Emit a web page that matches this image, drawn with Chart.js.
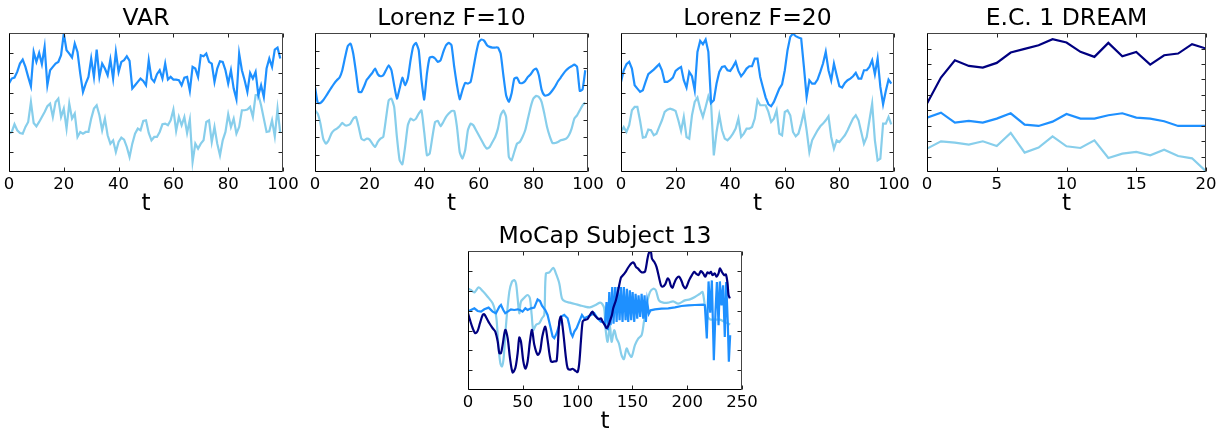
<!DOCTYPE html>
<html><head><meta charset="utf-8">
<script src="https://cdn.jsdelivr.net/npm/chart.js@4.4.0/dist/chart.umd.min.js"></script>
<style>
html,body{margin:0;padding:0;background:#fff;width:1220px;height:430px;overflow:hidden;position:relative}
canvas{position:absolute}
</style></head><body>
<canvas id="c1" width="324" height="220" style="left:-16px;top:0px;width:324px;height:220px"></canvas>
<canvas id="c2" width="323" height="220" style="left:290px;top:0px;width:323px;height:220px"></canvas>
<canvas id="c3" width="323" height="220" style="left:596px;top:0px;width:323px;height:220px"></canvas>
<canvas id="c4" width="329" height="220" style="left:902px;top:0px;width:329px;height:220px"></canvas>
<canvas id="c5" width="324" height="220" style="left:443px;top:218px;width:324px;height:220px"></canvas>
<script>
const FONT = "'DejaVu Sans', sans-serif";
const TITLES = ['VAR', 'Lorenz F=10', 'Lorenz F=20', 'E.C. 1 DREAM', 'MoCap Subject 13'];
const X_LABEL = 't';

// VAR (t = 0..99)
const varDodger = [265,280,283,300,325,337,315,285,257,360, 330,357,323,375,260,305,315,325,330,350, 415,365,355,343,385,360,295,240,265,285, 340,285,367,285,325,310,290,337,280,360, 300,330,335,347,333,250,260,270,280,273, 260,335,280,270,293,305,280,325,277,285, 277,277,275,260,283,285,243,315,310,285, 350,347,355,330,325,270,310,332,330,305, 265,305,250,218,355,305,275,240,297,280, 300,230,260,225,310,340,315,367,373,340];
const varSky = [115,120,143,125,117,115,135,150,210,147, 137,150,165,180,197,205,165,210,220,165, 190,130,205,160,175,105,120,115,120,120, 160,190,200,170,125,160,110,85,95,60, 90,103,97,75,45,85,115,130,125,153, 155,117,95,105,105,120,143,145,140,155, 187,123,165,140,165,117,157,30,85,70, 85,95,150,155,90,135,85,50,95,120, 173,135,160,115,135,185,185,187,195,165, 230,232,200,160,120,122,155,107,190,117];

// Lorenz F=10 (t = 0..99)
const l10Dodger = [255,207,207,215,227,240,253,265,275,283, 305,343,377,385,355,300,240,240,257,277, 287,297,310,293,287,290,305,320,305,260, 220,250,283,260,280,335,377,387,365,275, 217,295,343,345,340,330,335,360,380,387, 380,315,260,218,245,267,265,270,310,355, 390,397,393,380,375,373,373,373,355,290, 230,210,235,280,283,267,267,273,285,293, 305,310,290,247,230,230,235,245,257,272, 283,295,305,312,317,322,315,243,247,305];
const l10Sky = [185,175,145,100,85,95,115,125,130,137, 147,140,140,145,160,165,135,100,95,100, 97,85,75,90,100,105,160,215,220,195, 105,35,23,75,140,160,155,160,175,185, 120,50,55,105,150,153,137,150,165,175, 183,183,135,60,40,65,125,145,140,125, 110,95,80,70,75,90,105,130,170,185, 165,45,35,60,85,90,105,125,160,195, 220,228,225,210,175,135,107,87,87,90, 95,97,100,110,130,160,170,185,200,208];

// Lorenz F=20 (t = 0..99)
const l20Dodger = [270,305,323,330,310,260,250,240,245,270, 293,300,307,315,323,305,270,270,275,283, 303,310,315,275,253,300,287,245,360,393, 383,397,360,207,215,265,300,315,317,305, 303,315,330,303,287,297,310,317,317,340, 340,285,253,223,203,197,210,230,250,263, 305,365,405,415,407,403,400,315,225,275, 265,265,277,300,325,360,305,275,325,290, 257,253,267,275,280,287,297,280,280,305, 305,315,335,293,340,255,203,243,277,265];
const l20Sky = [120,135,120,140,185,195,195,153,103,105, 127,125,110,115,135,155,180,187,190,187, 183,155,123,165,105,100,170,210,223,190, 165,195,227,205,50,120,170,125,100,95, 103,115,130,160,105,115,130,130,135,160, 215,200,200,200,180,150,160,185,115,110, 180,185,170,120,107,115,145,180,125,60, 95,110,125,137,145,155,167,105,70,95, 90,100,110,125,143,160,170,155,120,85, 105,155,205,95,35,40,145,145,165,143];

// E.C. 1 DREAM (t = 0..20)
const dreamNavy = [205,283,335,318,313,327,358,369,380,398,388,360,345,387,347,360,322,350,355,383,370];
const dreamDodger = [163,178,148,153,148,160,176,142,138,151,174,160,160,170,176,163,160,152,138,138,138];
const dreamSky = [70,92,88,82,92,78,117,58,73,107,77,72,95,42,55,60,50,67,48,41,2];

// MoCap Subject 13
const mocapNavyT = [0,1.8,4.3,6.7,8.8,10.9,13.4,14.9,17.0,19.5, 22.5,24.9,27.1,28.6,30.1,31.6,34.0,36.2,38.3,40.7, 43.2,45.3,46.8,48.3,50.5,52.3,54.4,56.5,58.4,60.5, 63.5,65.7,67.8,70.5,72.6,75.7,78.7,80.9,83.3,84.8, 86.3,87.8,89.4,90.9,93.0,95.4,97.9,100.0,101.5,103.0, 104.6,106.1,109.1,112.2,113.7,115.2,118.2,119.8,121.3,122.8, 125.2,126.4,128.3,129.5,131.3,132.5,135.0,137.4,139.5,141.0, 143.5,145.6,147.7,150.2,151.7,153.2,155.6,157.8,159.9,161.7, 163.8,165.3,166.9,167.8,169.9,172.0,174.5,176.0,177.5,179.9, 182.1,183.6,185.1,186.6,188.1,190.3,192.7,195.1,196.4,198.2, 199.4,201.8,204.3,206.4,207.9,210.3,212.5,214.6,216.4,218.5, 220.1,221.6,223.1,225.2,226.7,228.6,229.8,231.6,233.7,235.3, 236.8,237.7,238.9];
const mocapNavy = [231,211,186,171,178,201,226,228,216,201, 186,176,146,111,111,136,181,156,96,53, 66,111,158,146,86,64,86,146,181,136, 106,116,161,191,151,86,86,88,206,221, 191,146,96,66,61,64,58,54,81,146, 206,211,214,231,236,226,216,214,216,206, 194,186,196,208,226,246,271,306,338,344, 354,366,376,384,381,371,364,356,354,358, 396,415,416,396,386,371,336,316,311,318, 336,331,314,308,321,336,341,326,314,306, 311,331,346,356,351,346,358,351,341,354, 351,356,346,351,341,351,366,356,346,348, 321,286,276];
const mocapDodgerT = [0,2.7,5.8,8.8,11.9,14.9,18.8,22.5,25.5,28.6, 30.1,32.2,34.0,36.2,39.2,42.2,45.3,47.4,49.8,52.3, 54.4,57.4,60.5,63.5,65.7,67.5,70.5,72.6,74.8,77.2, 78.7,80.9,83.3,84.8,87.8,90.9,92.4,93.9,95.4,97.0, 99.1,101.5,104.0,106.1,109.1,112.2,115.2,118.2,121.3,123.4, 124.9,126.4,127.7,128.9,130.1,131.6,132.8,134.3,135.6,136.8, 138.3,139.5,141.0,142.2,143.8,145.0,146.2,147.7,148.9,150.2, 151.7,152.9,154.4,155.6,157.1,158.4,159.9,161.1,162.3,163.5, 165.0,166.6,170.5,176.6,182.7,188.8,194.8,200.9,207.0,214.6, 216.1,217.9,219.5,221.0,222.5,224.3,225.8,227.1,228.6,229.8, 231.3,232.8,234.3,235.6,237.1,238.0,239.2];
const mocapDodger = [236,241,246,238,236,243,248,236,231,251, 256,241,231,236,243,241,243,241,236,246, 241,246,248,273,268,254,241,226,196,161, 156,171,196,221,226,216,196,171,161,176, 186,206,226,216,221,226,231,216,206,205, 195,265,180,295,195,310,200,310,205,310, 210,310,205,310,210,305,205,300,210,295, 205,290,215,285,220,290,215,285,205,265, 230,240,243,245,246,249,253,255,256,257, 255,155,327,233,330,90,235,325,195,327, 255,315,160,325,195,85,165];
const mocapSkyT = [0,2.7,5.8,9.7,13.4,17.9,22.5,24.9,26.1,27.7, 29.5,31.0,32.5,34.7,37.7,40.1,42.2,43.8,45.3,46.8, 48.3,51.4,54.4,56.5,58.1,59.6,62.0,65.0,67.5,69.6, 71.1,74.2,77.8,80.2,83.3,85.7,88.4,93.0,97.6,102.1, 106.7,111.2,115.8,120.4,122.5,124.3,125.5,127.4,129.5,131.0, 133.4,135.6,137.7,140.1,142.2,144.7,146.8,149.2,152.3,155.3, 158.4,160.5,162.9,166.0,169.0,171.4,174.2,178.1,182.7,187.2, 191.8,197.9,202.4,207.0,211.6,214.0,216.1,218.2,220.7,225.2, 229.8,234.3,239.2];
const mocapSky = [306,301,294,309,298,281,261,236,211,136, 81,71,96,196,296,326,331,321,276,231, 266,278,286,276,226,181,196,201,216,226, 351,354,368,351,321,276,267,263,259,255, 251,249,255,263,259,245,185,145,195,145, 180,155,140,105,93,125,110,100,135,155, 165,205,255,295,305,300,270,263,263,267, 260,270,273,280,290,295,255,225,213,212, 212,205,197];

// axis settings per panel
const X_MAX = [100, 100, 100, 20, 250];
const X_STEP = [20, 20, 20, 5, 50];
const Y_MAX = [416, 416, 416, 416, 418];
const Y_INTERVALS = [7, 8, 7, 9, 7];

const NAVY = '#000080', DODGER = '#1E90FF', SKY = '#87CEEB';

function pts(vals, ts) { return vals.map((v, i) => ({x: ts ? ts[i] : i, y: v})); }

const framePlugin = {
  id: 'frame',
  afterDraw(chart, args, opts) {
    const {ctx, chartArea: a, scales: {x, y}} = chart;
    const L = Math.round(a.left) + 0.5, R = Math.round(a.right) - 0.5;
    const T = Math.round(a.top) + 0.5, B = Math.round(a.bottom) - 0.5;
    ctx.save();
    ctx.lineWidth = 1;
    ctx.strokeStyle = '#222';
    ctx.beginPath();
    for (let i = 1; i < opts.yIntervals; i++) {
      const py = Math.round(y.getPixelForValue(opts.yMax * i / opts.yIntervals)) + 0.5;
      ctx.moveTo(L, py); ctx.lineTo(L + 4, py);
      ctx.moveTo(R, py); ctx.lineTo(R - 4, py);
    }
    x.ticks.forEach(t => {
      const px = Math.round(x.getPixelForValue(t.value)) + 0.5;
      ctx.moveTo(px, B); ctx.lineTo(px, B - 4);
      ctx.moveTo(px, T); ctx.lineTo(px, T + 4);
    });
    ctx.stroke();
    ctx.strokeStyle = '#444';
    ctx.beginPath();
    ctx.moveTo(L, T); ctx.lineTo(R, T); ctx.lineTo(R, B);
    ctx.stroke();
    ctx.strokeStyle = '#000';
    ctx.beginPath();
    ctx.moveTo(L, T); ctx.lineTo(L, B); ctx.lineTo(R, B);
    ctx.stroke();
    ctx.restore();
  }
};

function ds(data, color, tension) {
  return {data, borderColor: color, backgroundColor: color, borderWidth: 2.2, pointRadius: 0, tension: tension || 0, fill: false};
}

function makeChart(id, idx, datasets) {
  new Chart(document.getElementById(id), {
    type: 'line',
    data: {datasets},
    plugins: [framePlugin],
    options: {
      responsive: false, animation: false, devicePixelRatio: 1,
      layout: {padding: {left: 25, right: 25, top: 0, bottom: 0}},
      plugins: {
        legend: {display: false}, tooltip: {enabled: false},
        title: {display: true, text: TITLES[idx], color: '#000', font: {family: FONT, size: 23.5, weight: 'normal'}, padding: {top: 5, bottom: 0}},
        frame: {yMax: Y_MAX[idx], yIntervals: Y_INTERVALS[idx]}
      },
      scales: {
        x: {
          type: 'linear', min: 0, max: X_MAX[idx],
          afterFit: s => { s.height = 48; },
          grid: {display: false, drawTicks: false}, border: {display: false},
          ticks: {stepSize: X_STEP[idx], color: '#000', font: {family: FONT, size: 16.5}, padding: 3, maxRotation: 0, autoSkip: false},
          title: {display: true, text: X_LABEL, color: '#000', font: {family: FONT, size: 23}, padding: {top: 0, bottom: 2}}
        },
        y: {display: false, min: 0, max: Y_MAX[idx]}
      }
    }
  });
}

makeChart('c1', 0, [ds(pts(varDodger), DODGER), ds(pts(varSky), SKY)]);
makeChart('c2', 1, [ds(pts(l10Dodger), DODGER, 0.15), ds(pts(l10Sky), SKY, 0.15)]);
makeChart('c3', 2, [ds(pts(l20Dodger), DODGER), ds(pts(l20Sky), SKY)]);
makeChart('c4', 3, [ds(pts(dreamNavy), NAVY), ds(pts(dreamDodger), DODGER), ds(pts(dreamSky), SKY)]);
makeChart('c5', 4, [ds(pts(mocapNavy, mocapNavyT), NAVY, 0.3), ds(pts(mocapDodger, mocapDodgerT), DODGER), ds(pts(mocapSky, mocapSkyT), SKY, 0.3)]);
</script>
</body></html>
